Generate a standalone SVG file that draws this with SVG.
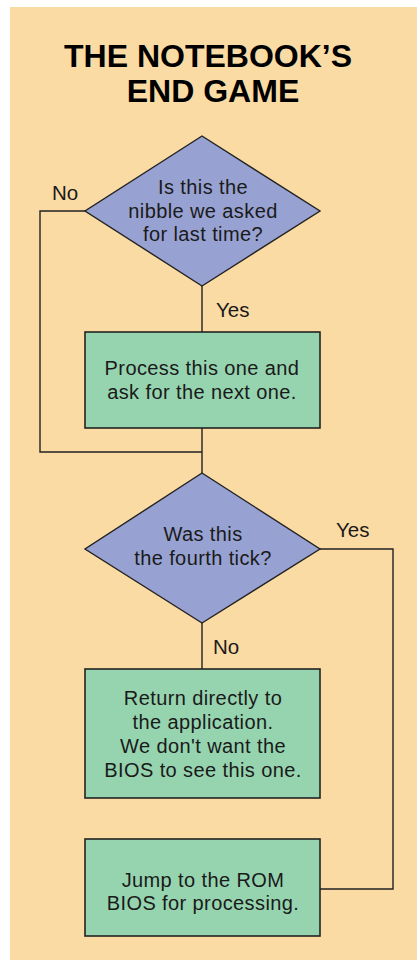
<svg xmlns="http://www.w3.org/2000/svg" width="417" height="960" viewBox="0 0 417 960">
<style>
text{font-family:"Liberation Sans",Arial,sans-serif;fill:#1a1a1a;text-anchor:middle}
.t{font-size:32px;font-weight:bold;fill:#000}
.n{font-size:20px;letter-spacing:0.4px}
.l{font-size:20.5px;text-anchor:start}
.d{fill:#98a2d2;stroke:#222;stroke-width:1.4}
.b{fill:#96d4b0;stroke:#222;stroke-width:1.6}
.c{fill:none;stroke:#222;stroke-width:1.4}
</style>
<rect width="417" height="960" fill="#fff"/>
<rect x="10" y="7" width="407" height="953" fill="#fbdba4"/>
<g id="title">
<text class="t" x="208" y="67">THE NOTEBOOK’S</text>
<text class="t" x="213" y="102">END GAME</text>
</g>
<g id="connectors">
<polyline class="c" points="85,211 40,211 40,452 202,452"/>
<line class="c" x1="202" y1="286" x2="202" y2="332"/>
<line class="c" x1="202" y1="428" x2="202" y2="473"/>
<line class="c" x1="202" y1="623" x2="202" y2="669"/>
<polyline class="c" points="320,549 393,549 393,889 320,889"/>
</g>
<g id="labels">
<text class="l" x="52" y="200">No</text>
<text class="l" x="216" y="317">Yes</text>
<text class="l" x="336" y="537">Yes</text>
<text class="l" x="213" y="654">No</text>
</g>
<g id="decision1">
<polygon class="d" points="202,136 320,211 202,286 85,211"/>
<text class="n" x="203" y="194">Is this the</text>
<text class="n" x="203" y="218">nibble we asked</text>
<text class="n" x="203" y="241">for last time?</text>
</g>
<g id="process1">
<rect class="b" x="85" y="332" width="235" height="96"/>
<text class="n" x="202" y="375">Process this one and</text>
<text class="n" x="202" y="399">ask for the next one.</text>
</g>
<g id="decision2">
<polygon class="d" points="202,473 320,549 202,623 85,549"/>
<text class="n" x="203" y="541">Was this</text>
<text class="n" x="203" y="565">the fourth tick?</text>
</g>
<g id="process2">
<rect class="b" x="85" y="669" width="235" height="129"/>
<text class="n" x="203" y="705">Return directly to</text>
<text class="n" x="203" y="729">the application.</text>
<text class="n" x="203" y="753">We don't want the</text>
<text class="n" x="203" y="777">BIOS to see this one.</text>
</g>
<g id="process3">
<rect class="b" x="85" y="839" width="235" height="97"/>
<text class="n" x="203" y="887">Jump to the ROM</text>
<text class="n" x="203" y="910">BIOS for processing.</text>
</g>
</svg>
